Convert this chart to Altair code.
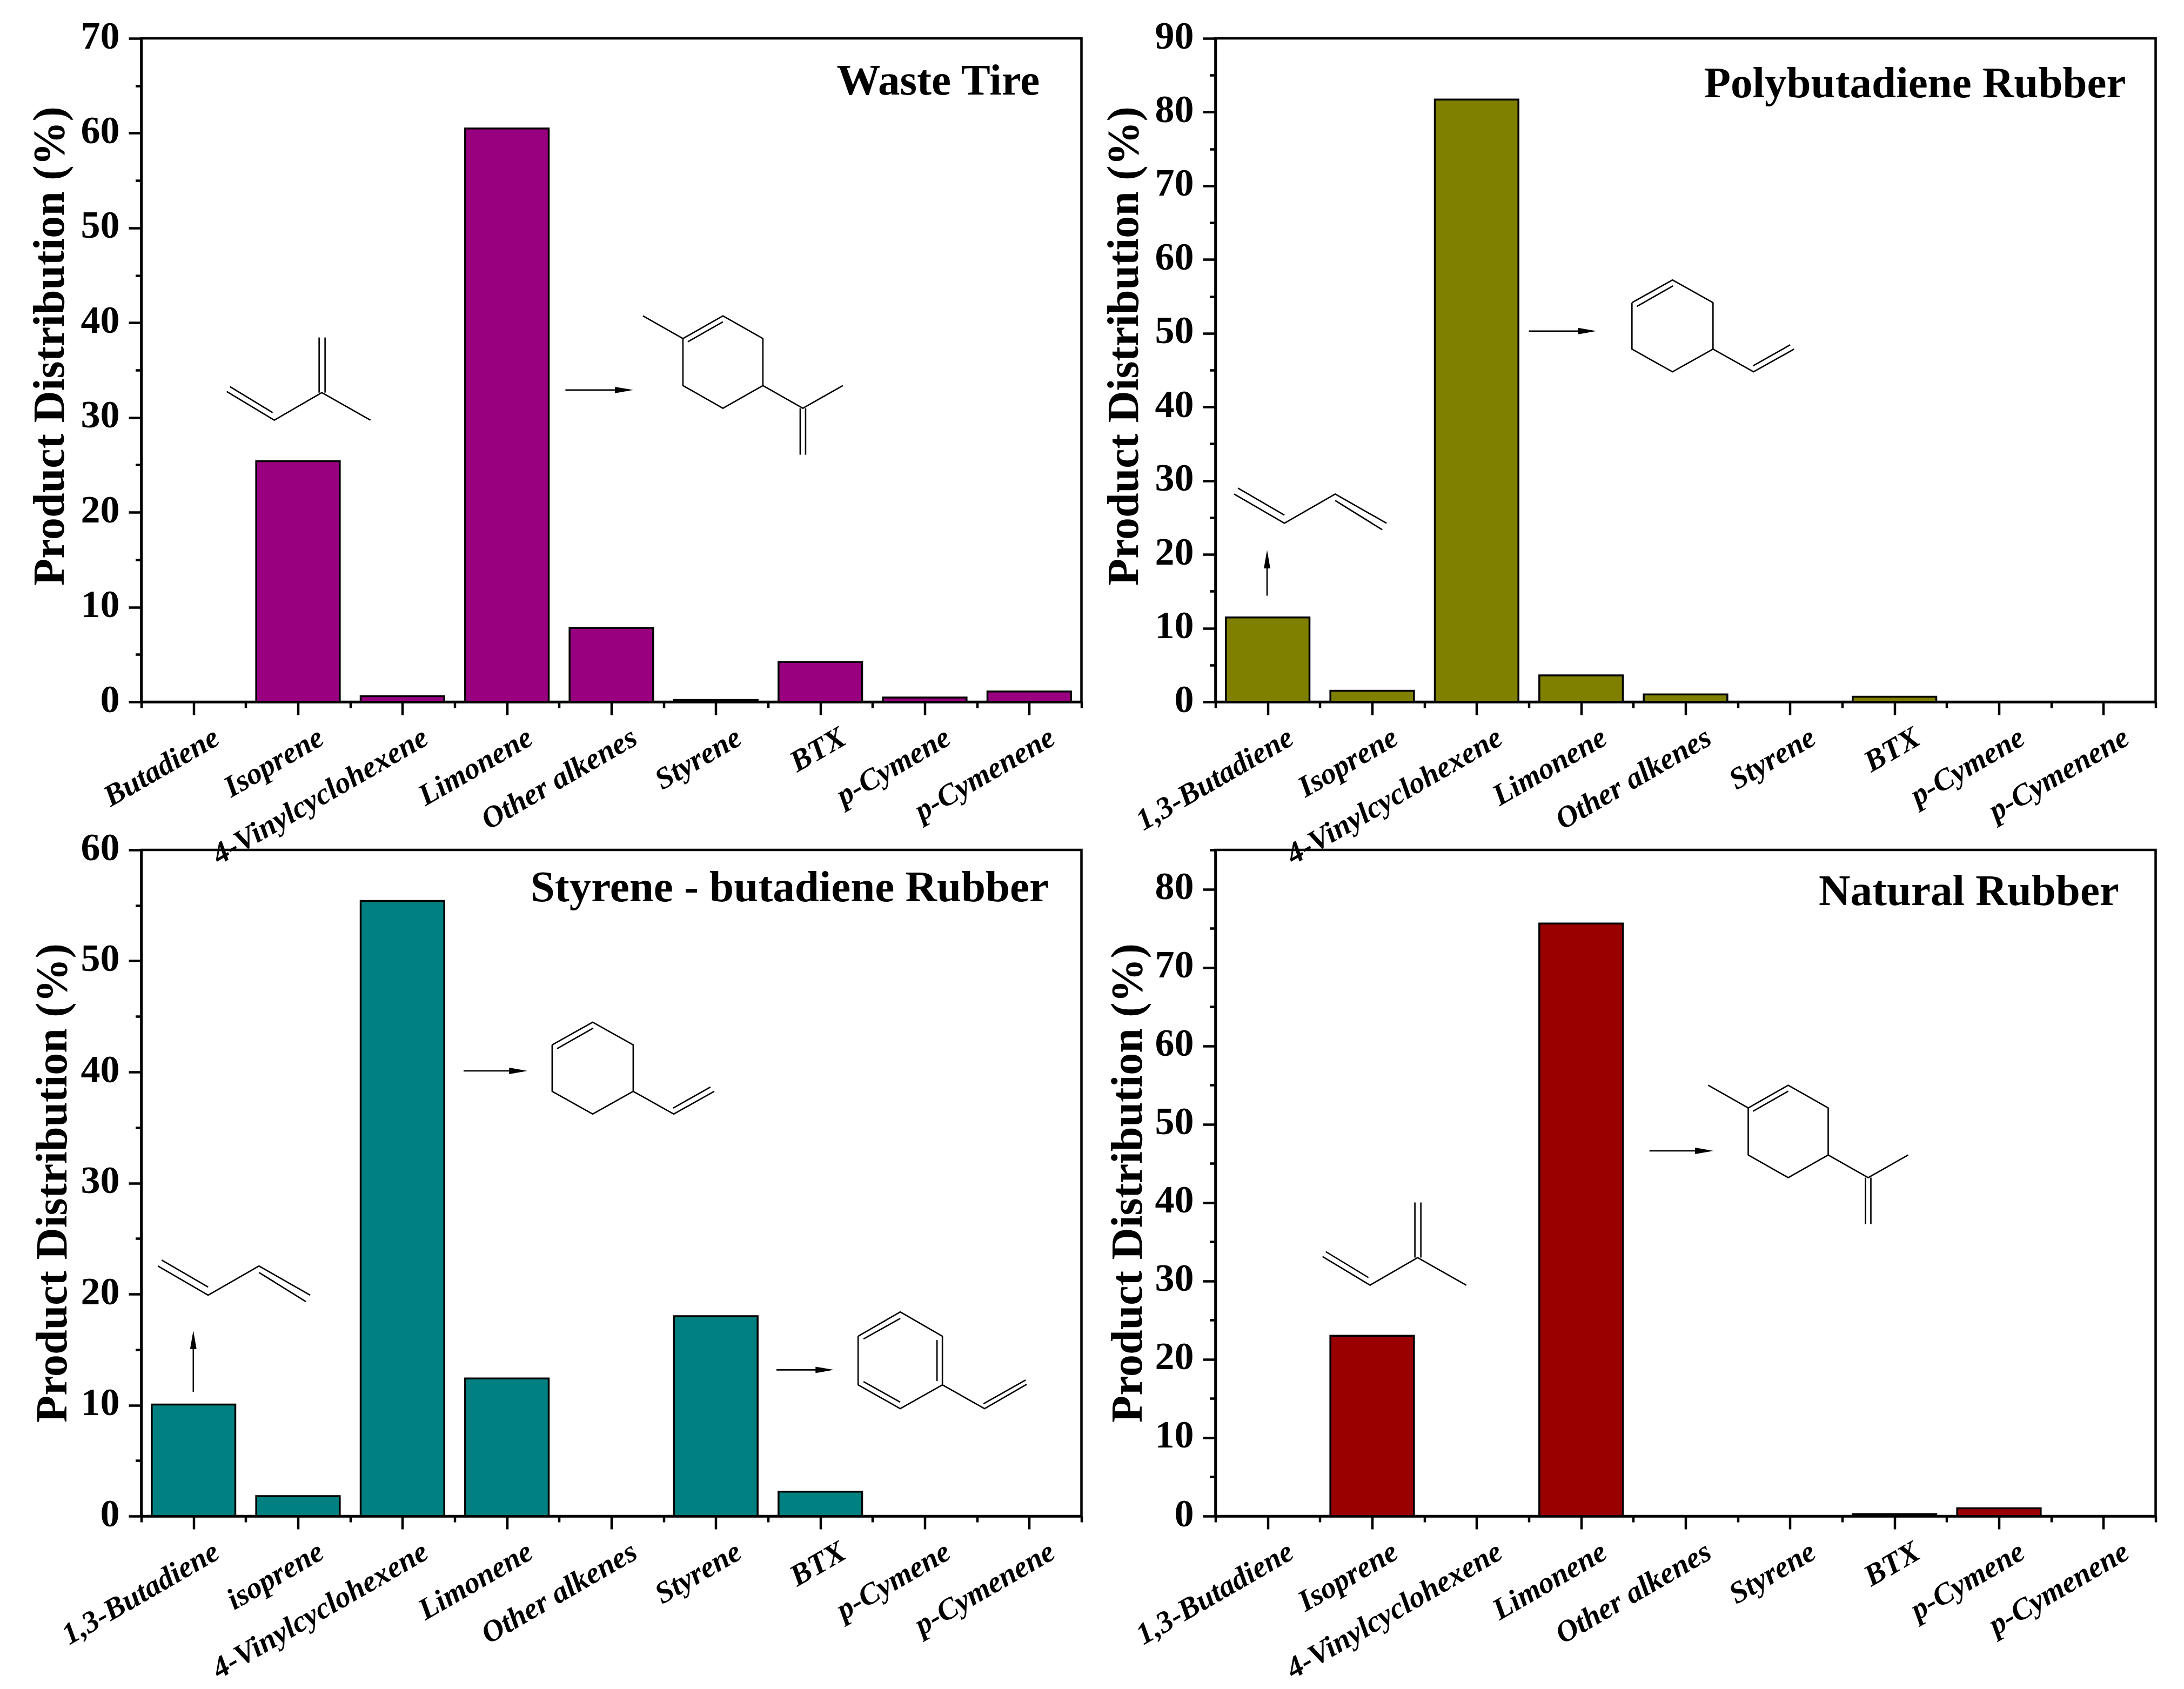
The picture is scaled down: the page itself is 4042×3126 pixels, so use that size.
import json
import altair as alt
import pandas as pd

FONT = "Liberation Serif"

cats_tire = ["Butadiene", "Isoprene", "4-Vinylcyclohexene", "Limonene", "Other alkenes", "Styrene", "BTX", "p-Cymene", "p-Cymenene"]
cats_pbr = ["1,3-Butadiene", "Isoprene", "4-Vinylcyclohexene", "Limonene", "Other alkenes", "Styrene", "BTX", "p-Cymene", "p-Cymenene"]
cats_sbr = ["1,3-Butadiene", "isoprene", "4-Vinylcyclohexene", "Limonene", "Other alkenes", "Styrene", "BTX", "p-Cymene", "p-Cymenene"]
cats_nr = cats_pbr

vals_tire = [0, 25.4, 0.6, 60.5, 7.8, 0.2, 4.2, 0.45, 1.1]
vals_pbr = [11.45, 1.5, 81.7, 3.6, 1.0, 0, 0.7, 0, 0]
vals_sbr = [10.05, 1.8, 55.4, 12.4, 0, 18.0, 2.2, 0, 0]
vals_nr = [0, 23.0, 0, 75.6, 0, 0, 0.25, 1.0, 0]

# Structural formulae: bond lists, in px offsets from an anchor placed in data units
LIMONENE = [
    [(0, 0), (74, -42), (148, 0), (148, 87), (74, 129), (0, 87), (0, 0)],
    [(9, 6), (74, -31)],
    [(0, 0), (-74, -42)],
    [(148, 87), (222, 129), (296, 87)],
    [(217, 129), (217, 215)],
    [(227, 129), (227, 215)],
]
ISOPRENE = [
    [(-88, -53), (0, 0), (88, -51), (178, 0)],
    [(-82, -62), (-3, -14)],
    [(83, -51), (83, -153)],
    [(94, -51), (94, -153)],
]
VCH = [
    [(0, 0), (75, -42), (150, 0), (150, 86), (75, 128), (0, 86), (0, 0)],
    [(9, 7), (76, -31)],
    [(150, 86), (225, 128), (300, 86)],
    [(224, 117), (293, 78)],
]
BUTADIENE = [
    [(-93, -54), (0, 0), (94, -54), (189, 0)],
    [(-86, -65), (0, -15)],
    [(94, -42), (181, 12)],
]
STYRENE = [
    [(0, 0), (78, -45), (156, 0), (156, 90), (78, 134), (0, 90), (0, 0)],
    [(10, 5), (78, -33)],
    [(146, 7), (146, 83)],
    [(10, 84), (78, 122)],
    [(156, 90), (234, 134), (312, 89)],
    [(232, 125), (310, 81)],
]

PANELS = [
    dict(cats=cats_tire, vals=vals_tire, color="#990080", ymax=70, h=1228, title="Waste Tire", tx=8.6, ty=64.05,
         titleX=-144, titleY=569,
         mols=[(LIMONENE, 5.185, 38.33), (ISOPRENE, 1.273, 29.72)],
         harrows=[(4.06, 4.71, 32.9)], varrows=[]),
    dict(cats=cats_pbr, vals=vals_pbr, color="#808000", ymax=90, h=1228, title="Polybutadiene Rubber", tx=8.715, ty=82,
         titleX=-144.5, titleY=569,
         mols=[(VCH, 3.987, 54.15), (BUTADIENE, 0.66, 24.23)],
         harrows=[(3.0, 3.647, 50.3)], varrows=[(0.494, 14.4, 20.6)]),
    dict(cats=cats_sbr, vals=vals_sbr, color="#008080", ymax=60, h=1233, title="Styrene - butadiene Rubber", tx=8.687, ty=55.4,
         titleX=-139.5, titleY=616,
         mols=[(VCH, 3.933, 42.44), (BUTADIENE, 0.64, 19.9), (STYRENE, 6.862, 16.2)],
         harrows=[(3.085, 3.697, 40.1), (6.08, 6.63, 13.17)], varrows=[(0.498, 11.2, 16.7)]),
    dict(cats=cats_nr, vals=vals_nr, color="#990000", ymax=85, h=1233, title="Natural Rubber", tx=8.65, ty=77.95,
         titleX=-136.7, titleY=616,
         mols=[(LIMONENE, 5.10, 52.08), (ISOPRENE, 1.48, 29.47)],
         harrows=[(4.154, 4.767, 46.6)], varrows=[]),
]

W = 1740
NB = 9
X_TICKS = [i * 0.5 for i in range(2 * NB + 1)]
HEAD_R = "M-2,-0.35L0,0L-2,0.35Z"
HEAD_U = "M-0.35,2L0,0L0.35,2Z"


def panel(p):
    xs = alt.Scale(domain=[0, NB], nice=False, zero=False)
    ys = alt.Scale(domain=[0, p["ymax"]], nice=False)
    xaxis = alt.Axis(
        values=X_TICKS, title=None, grid=False, domainColor="black", domainWidth=4.5,
        tickColor="black", tickWidth=4.5, zindex=1,
        tickSize=alt.expr("datum.value % 1 == 0 ? 11 : 24"),
        labelExpr=f"datum.value % 1 == 0 ? '' : {json.dumps(p['cats'])}[floor(datum.value)]",
        labelAngle=330, labelAlign="right", labelBaseline="top", labelOffset=29, labelPadding=14, labelLimit=1000,
        labelOverlap=False, labelBound=False, labelFlush=False,
        labelFont=FONT, labelFontSize=56, labelFontWeight="bold", labelFontStyle="italic", labelColor="black",
    )
    yaxis = alt.Axis(
        values=list(range(0, p["ymax"] + 1, 5)), title="Product Distribution (%)", grid=False,
        domainColor="black", domainWidth=4.5, tickColor="black", tickWidth=4.5, zindex=1,
        tickSize=alt.expr("datum.value % 10 == 0 ? 23.5 : 11"),
        labelExpr="datum.value % 10 == 0 ? datum.label : ''",
        labelPadding=17, labelOffset=-4, labelOverlap=False, labelBound=False, labelFlush=False,
        labelFont=FONT, labelFontSize=72, labelFontWeight="bold", labelColor="black",
        titleFont=FONT, titleFontSize=82, titleFontWeight="bold", titleColor="black",
        titleX=p["titleX"], titleY=p["titleY"], titleBaseline="alphabetic",
    )
    X = lambda f: alt.X(f, scale=xs, axis=xaxis)
    Y = lambda f: alt.Y(f, scale=ys, axis=yaxis)

    bars = pd.DataFrame({
        "product": p["cats"],
        "value": p["vals"],
        "base": [0] * NB,
        "x0": [i + 0.1 for i in range(NB)],
        "x1": [i + 0.9 for i in range(NB)],
    })
    bar = alt.Chart(bars).mark_rect(color=p["color"], stroke="black", strokeWidth=3.5).encode(
        x=X("x0:Q"), x2="x1:Q", y=Y("value:Q"), y2="base:Q",
    )

    pxx = W / NB
    pxy = p["h"] / p["ymax"]
    rows = []
    seg = 0
    for bonds, ax, ay in p["mols"]:
        for bond in bonds:
            seg += 1
            for o, (dx, dy) in enumerate(bond):
                rows.append({"s": seg, "o": o, "x": ax + dx / pxx, "y": ay - dy / pxy})
    for x0, x1, y in p["harrows"]:
        seg += 1
        rows.append({"s": seg, "o": 0, "x": x0, "y": y})
        rows.append({"s": seg, "o": 1, "x": x1 - 8 / pxx, "y": y})
    for x, y0, y1 in p["varrows"]:
        seg += 1
        rows.append({"s": seg, "o": 0, "x": x, "y": y0})
        rows.append({"s": seg, "o": 1, "x": x, "y": y1 - 8 / pxy})
    lines = alt.Chart(pd.DataFrame(rows)).mark_line(
        color="black", strokeWidth=2.6, strokeJoin="round"
    ).encode(x=X("x:Q"), y=Y("y:Q"), detail="s:N", order=alt.Order("o:Q"))
    layers = [bar, lines]
    if p["harrows"]:
        df = pd.DataFrame([{"x": a[1], "y": a[2]} for a in p["harrows"]])
        layers.append(alt.Chart(df).mark_point(shape=HEAD_R, filled=True, color="black", opacity=1, size=1156, strokeWidth=0).encode(
            x=X("x:Q"), y=Y("y:Q")))
    if p["varrows"]:
        df = pd.DataFrame([{"x": a[0], "y": a[2]} for a in p["varrows"]])
        layers.append(alt.Chart(df).mark_point(shape=HEAD_U, filled=True, color="black", opacity=1, size=1156, strokeWidth=0).encode(
            x=X("x:Q"), y=Y("y:Q")))
    layers.append(
        alt.Chart(pd.DataFrame([{"x": p["tx"], "y": p["ty"], "t": p["title"]}])).mark_text(
            align="right", baseline="alphabetic", font=FONT, fontSize=81, fontWeight="bold", color="black"
        ).encode(x=X("x:Q"), y=Y("y:Q"), text="t:N")
    )
    return alt.layer(*layers).properties(width=W, height=p["h"])


chart = (
    alt.concat(*[panel(p) for p in PANELS], columns=2, spacing={"row": 274, "column": 248}, bounds="flush")
    .properties(
        autosize=alt.AutoSizeParams(type="none"),
        padding={"left": 253.5, "top": 63, "right": 3772, "bottom": 3042},
        background="white",
    )
    .configure_view(stroke="black", strokeWidth=4.5)
)

chart.save("out.html", embed_options={"renderer": "svg", "actions": False})
